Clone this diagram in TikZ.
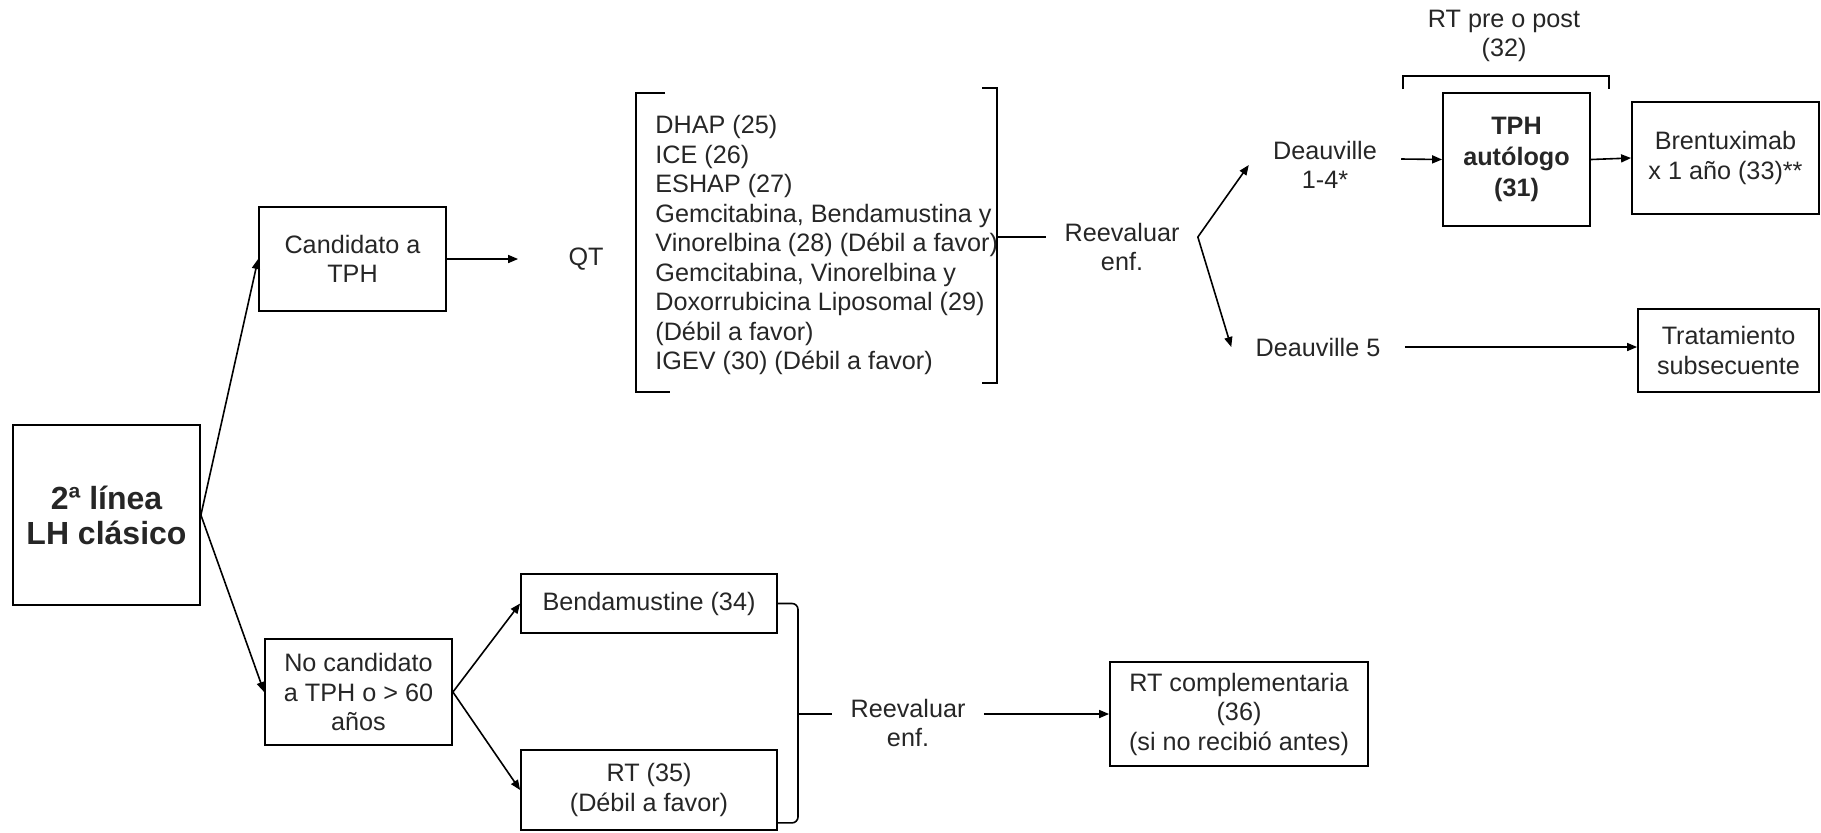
\documentclass[tikz,border=0pt]{standalone}
\usepackage{fontspec}
\setmainfont{Liberation Sans}
\usetikzlibrary{arrows.meta,calc}

\tikzset{
  box/.style={draw, line width=0.9pt, align=center, inner sep=2pt},
  txt/.style={align=center, inner xsep=9pt, inner ysep=2pt},
  arr/.style={-{Triangle[length=5pt,width=4pt]}, line width=0.8pt},
  link/.style={line width=0.8pt}
}

\begin{document}
\begin{tikzpicture}[x=0.5pt, y=-0.5pt, font=\fontsize{12.6}{14.75}\selectfont, text=black!85]
        \useasboundingbox (0,0) rectangle (1821,832);

        % Rama superior: candidato a TPH
        \node[box, minimum width=93.5pt, minimum height=90pt, font=\fontsize{16}{17.5}\selectfont\bfseries] (linea) at (106.5,515) {2ª línea\\LH clásico};
        \node[box, minimum width=93.5pt, minimum height=52pt] (cand) at (352.5,259) {Candidato a\\TPH};
        \node[txt, inner xsep=25pt] (qt) at (586,259) {QT};
        \node[anchor=west, align=left, inner sep=0pt] (lista) at (655,245) {DHAP (25)\\ICE (26)\\ESHAP (27)\\Gemcitabina, Bendamustina y\\Vinorelbina (28) (Débil a favor)\\Gemcitabina, Vinorelbina y\\Doxorrubicina Liposomal (29)\\(Débil a favor)\\IGEV (30) (Débil a favor)};
        \draw[link] (665,93) -- (636,93) -- (636,392) -- (670,392); % corchete izq.
        \draw[link] (982,88) -- (997,88) -- (997,383) -- (982,383); % corchete der.
        \coordinate (qtR) at (997,237);
        \node[txt] (reevA) at (1122,247) {Reevaluar\\enf.};
        \coordinate (fork) at (reevA.east |- qtR);
        \node[txt, inner xsep=12pt] (dA) at (1325,165) {Deauville\\1-4*};
        \node[txt, inner xsep=12pt] (dB) at (1318,347) {Deauville 5};
        \node[box, minimum width=73.5pt, minimum height=66.5pt, font=\fontsize{12.6}{15.5}\selectfont\bfseries] (tph) at (1516.5,159.5) {TPH\\autólogo\\(31)};
        \node[box, minimum width=93.5pt, minimum height=56pt] (brent) at (1725.5,158) {Brentuximab\\x 1 año (33)**};
        \node[box, minimum width=90.5pt, minimum height=41.5pt] (trat) at (1728.5,350.5) {Tratamiento\\subsecuente};
        \draw[link] (1403,89) -- (1403,76) -- (1609,76) -- (1609,89); % RT pre o post
        \node[txt] (rtpre) at (1504,36) {RT pre o post\\(32)};

        \draw[arr] (linea.east) -- (cand.west);
        \draw[arr] (cand.east) -- (qt.west);
        \draw[link] (qtR) -- (qtR -| reevA.west);
        \draw[arr] (fork) -- (dA.west);
        \draw[arr] (fork) -- (dB.west);
        \draw[arr] ([yshift=3pt]dA.east) -- (tph.west);
        \draw[arr] (tph.east) -- (brent.west);
        \draw[arr] (dB.east) -- (dB.east -| trat.west);

        % Rama inferior: no candidato
        \node[box, minimum width=93.5pt, minimum height=53pt] (nocand) at (358.5,692) {No candidato\\a TPH o > 60\\años};
        \node[box, minimum width=128pt, minimum height=29.5pt] (benda) at (649,603.5) {Bendamustine (34)};
        \node[box, minimum width=128pt, minimum height=40pt] (rt) at (649,790) {RT (35)\\(Débil a favor)};
        \coordinate (union) at (798,714);
        \node[txt] (reevB) at (908,723) {Reevaluar\\enf.};
        \node[box, minimum width=129pt, minimum height=52pt] (rtc) at (1239,714) {RT complementaria\\(36)\\(si no recibió antes)};

        \draw[arr] (linea.east) -- (nocand.west);
        \draw[arr] (nocand.east) -- (benda.west);
        \draw[arr] (nocand.east) -- (rt.west);
        \draw[link, rounded corners=3pt] (benda.east) -| (union) |- ([yshift=4pt]rt.south east);
        \draw[link] (union) -- (union -| reevB.west);
        \draw[arr] (reevB.east |- union) -- (rtc.west);
    \end{tikzpicture}
\end{document}
